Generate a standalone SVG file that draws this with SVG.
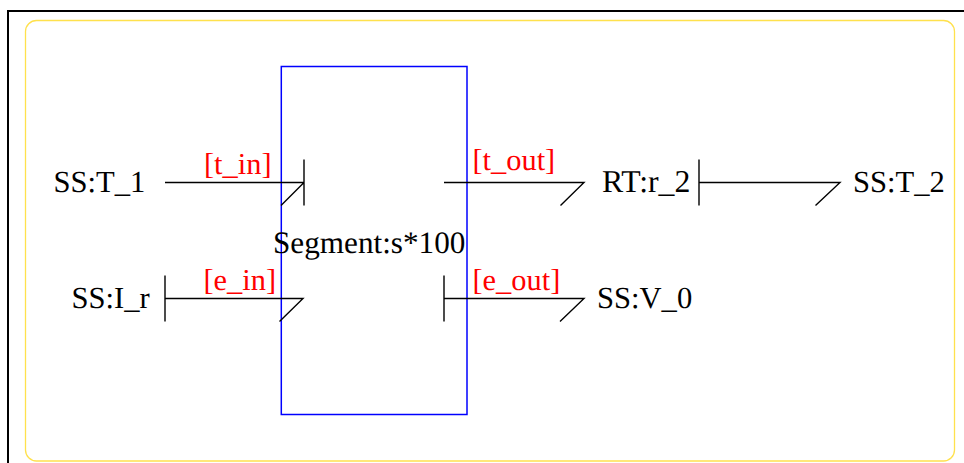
<svg xmlns="http://www.w3.org/2000/svg" width="964" height="463" viewBox="0 0 964 463">
<style>
text{font-family:"Liberation Serif","Times New Roman",serif;font-size:30.6px;fill:#000;text-rendering:geometricPrecision}
.r{fill:#f00;font-size:30.4px}
.c path{fill:none;stroke:#000;stroke-width:1.4}
</style>
<rect width="964" height="463" fill="#fff"/>
<path d="M8 463V11H964" fill="none" stroke="#000" stroke-width="2"/>
<rect id="frame" x="25.5" y="20.5" width="929" height="440.5" rx="11" fill="#fff" stroke="#ffe14d" stroke-width="1.3"/>
<g id="segment"><rect x="281.3" y="66.5" width="185.700" height="348" fill="none" stroke="#00f" stroke-width="1.5"/><text x="273" y="253" style="font-size:31.200px">Segment:s*100</text></g>
<g class="c" id="connectors">
<path d="M165 182.500H304M304 159.500V205.500M304 182.500L281 205.500"/>
<path d="M165 298.500H303L279.500 321.500M165 275.500V321.500"/>
<path d="M444 182.500H584L560.500 205.500"/>
<path d="M444 298.500H584L560 321.500M444 275.500V321.500"/>
<path d="M699 182.500H840L815.500 205.500M699 159.500V205.500"/>
</g>
<g id="ss-t1"><text x="53.500" y="192">SS:T_1</text></g>
<g id="ss-ir"><text x="71.500" y="308">SS:I_r</text></g>
<g id="rt-r2"><text x="602" y="192" style="font-size:31.800px">RT:r_2</text></g>
<g id="ss-t2"><text x="853" y="192">SS:T_2</text></g>
<g id="ss-v0"><text x="597" y="308">SS:V_0</text></g>
<g id="labels">
<text class="r" x="204" y="174">[t_in]</text>
<text class="r" x="203.500" y="290">[e_in]</text>
<text class="r" x="472.500" y="169.500">[t_out]</text>
<text class="r" x="472.500" y="290">[e_out]</text>
</g>
</svg>
